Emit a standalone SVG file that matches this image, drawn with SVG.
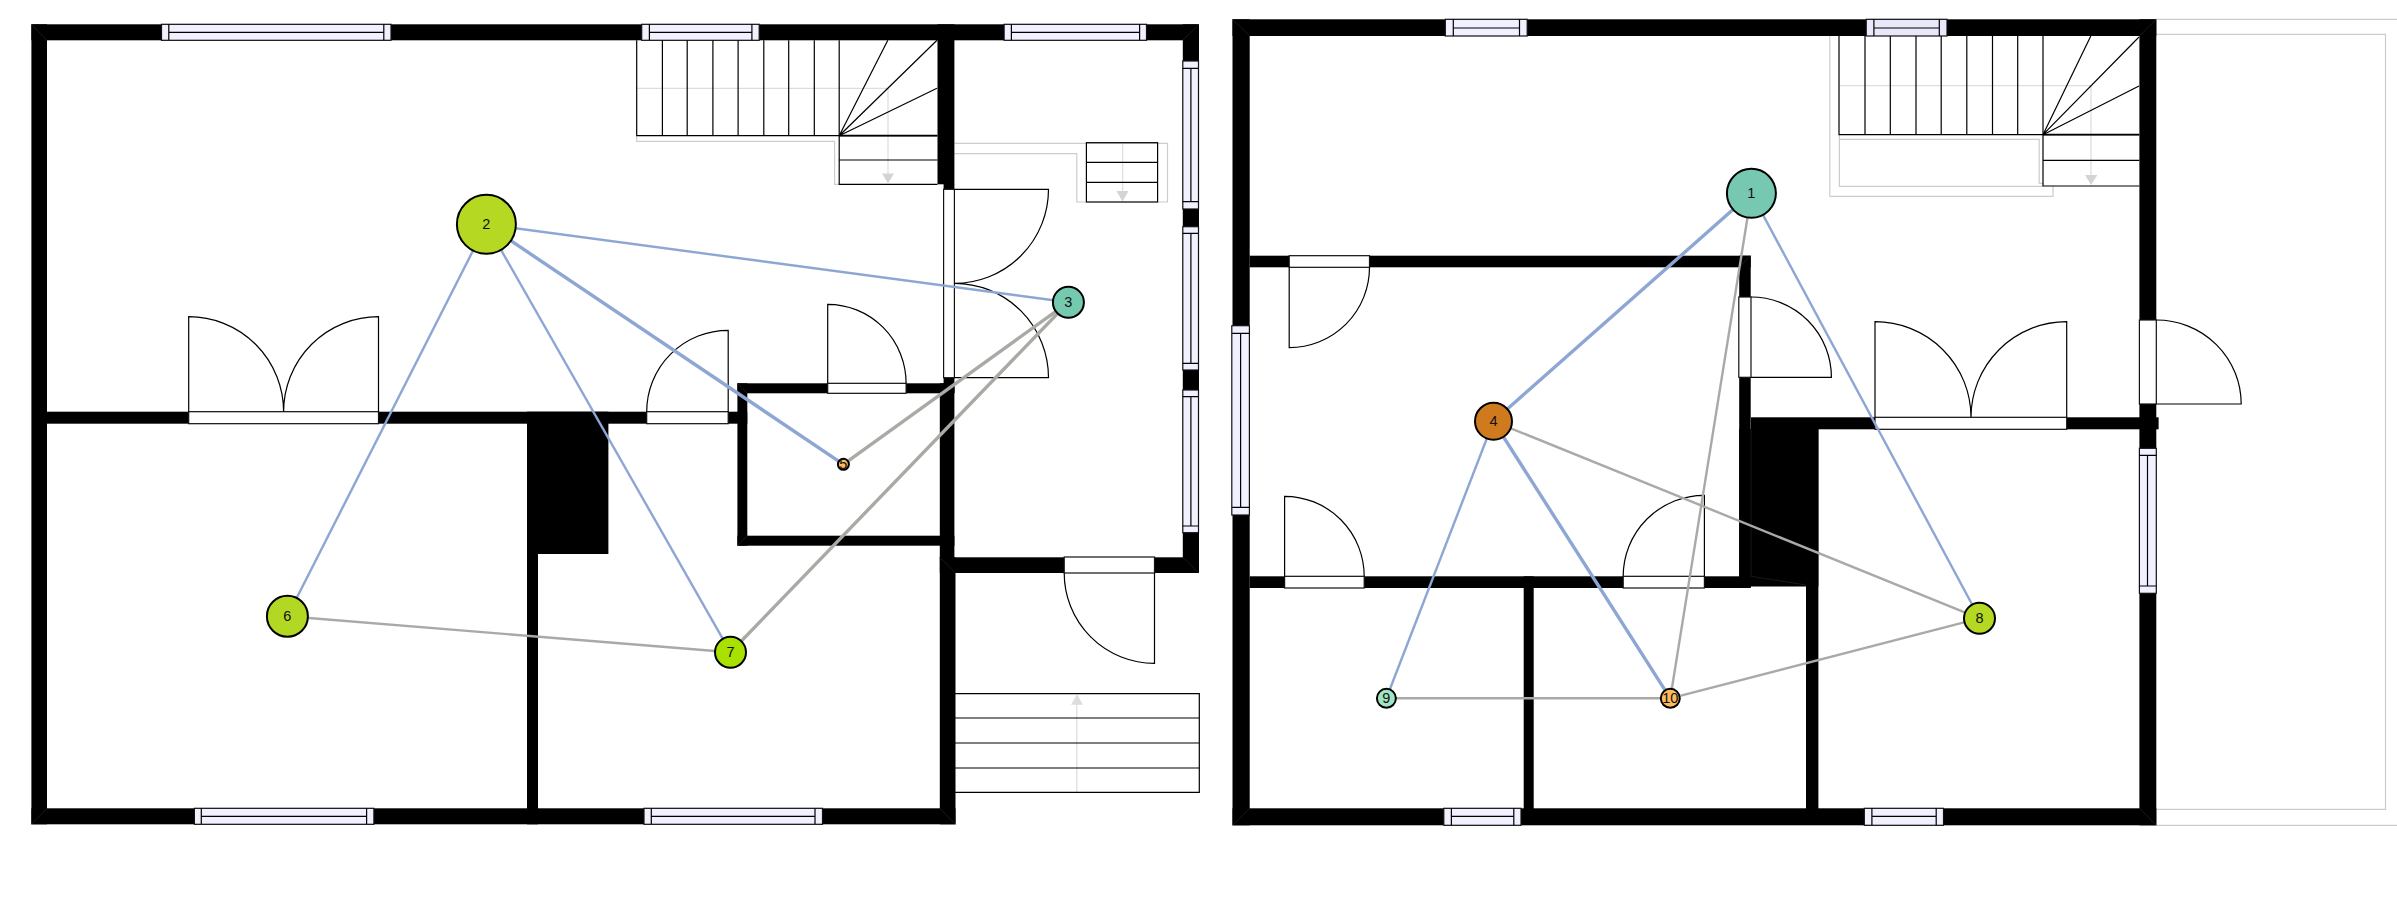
<svg xmlns="http://www.w3.org/2000/svg" width="2397" height="905" viewBox="0 0 2397 905">
<style>
.w{fill:#000;stroke:none}
.win{fill:#f0f0ff;stroke:#111;stroke-width:1.2}
.t{fill:#fff;stroke:#111;stroke-width:1.2}
.l{fill:none;stroke:#000;stroke-width:1.2}
.g{fill:none;stroke:#ccc;stroke-width:1.2}
.gl{fill:none;stroke:#ddd;stroke-width:1.2}
.ga{fill:#d4d4d4;stroke:none}
.m{fill:none;stroke:#333;stroke-width:.5}
.b{stroke:#8da6d3;stroke-width:2.4;fill:none}
.bt{stroke:#8da6d3;stroke-width:3.4;fill:none}
.y{stroke:#a9a9a5;stroke-width:2.4;fill:none}
.yt{stroke:#a9a9a5;stroke-width:3.4;fill:none}
circle{stroke:#000;stroke-width:2}
text{font-family:"Liberation Sans",Arial,sans-serif;font-size:14.5px;fill:#111;text-anchor:middle;dominant-baseline:central}
</style>
<rect width="2397" height="905" fill="#fff"/>
<g id="plan-left">
<path class="g" d="M636.7 135.7V141.3H834.6V184.3H839.2"/>
<path class="g" d="M954.4 143.3H1167.5V202H1157.6M954.4 153.7H1076.8V202H1086.4"/>
<path class="gl" d="M636.7 88.3H888V175"/>
<path class="ga" d="M882 173.5H894L888 183.5Z"/>
<path class="gl" d="M1122.7 143V192"/>
<path class="ga" d="M1116.5 191H1128.5L1122.5 201.5Z"/>
<path class="gl" d="M1076.8 792V704"/>
<path fill="#ddd" d="M1071 704.7H1083L1077 694.3Z"/>
<g class="w">
<rect x="31.4" y="24.3" width="1167.6" height="16"/>
<rect x="31.4" y="24.3" width="15.6" height="800"/>
<rect x="31.4" y="808.3" width="924.1" height="16"/>
<rect x="47" y="411.7" width="700.3" height="12"/>
<rect x="527" y="411.7" width="81.4" height="142.3"/>
<rect x="527" y="554" width="11" height="270.3"/>
<rect x="937.5" y="24.3" width="16.9" height="160"/>
<rect x="943.6" y="184" width="10.8" height="6"/>
<rect x="943.6" y="377" width="10.8" height="16"/>
<rect x="939.8" y="383.3" width="14.6" height="175"/>
<rect x="939.8" y="557.3" width="15.7" height="267"/>
<rect x="737.4" y="383.3" width="217" height="10"/>
<rect x="737.4" y="383.3" width="9.9" height="162.4"/>
<rect x="737.4" y="535.7" width="217" height="10"/>
<rect x="1182.8" y="24.3" width="16.2" height="548.7"/>
<rect x="939.8" y="557.3" width="259.2" height="15.7"/>
</g>
<path class="m" d="M31.4 24.3L47 40.3M31.4 824.3L47 808.3M1199 24.3L1182.8 40.3M1199 573L1182.8 557.3M939.8 557.3L955.5 573M939.8 808.3L955.5 824.3M737.4 383.3L747.3 393.3M737.4 545.7L747.3 535.7M954.4 383.3L944 393.3"/>
<g id="windows-left">
<rect class="win" x="161.5" y="24.3" width="229.5" height="16"/><path class="l" d="M168.8 24.3V40.3M383.8 24.3V40.3M168.8 32.3H383.8"/>
<rect class="win" x="641.7" y="24.3" width="117.5" height="16"/><path class="l" d="M649.4 24.3V40.3M751.9 24.3V40.3M649.4 32.3H751.9"/>
<rect class="win" x="1004.1" y="24.3" width="142.4" height="16"/><path class="l" d="M1011.4 24.3V40.3M1139.6 24.3V40.3M1011.4 32.3H1139.6"/>
<rect class="win" x="194.4" y="808.3" width="179.5" height="16"/><path class="l" d="M201.3 808.3V824.3M366.6 808.3V824.3M201.3 816.3H366.6"/>
<rect class="win" x="644" y="808.3" width="178.5" height="16"/><path class="l" d="M651.3 808.3V824.3M815 808.3V824.3M651.3 816.3H815"/>
<rect class="win" x="1182.8" y="61" width="15.7" height="148"/><path class="l" d="M1182.8 68.3H1198.5M1182.8 201.7H1198.5M1190.9 68.3V201.7"/>
<rect class="win" x="1182.8" y="226.7" width="15.7" height="143.3"/><path class="l" d="M1182.8 233.3H1198.5M1182.8 363.3H1198.5M1190.9 233.3V363.3"/>
<rect class="win" x="1182.8" y="390" width="15.7" height="142.7"/><path class="l" d="M1182.8 396.7H1198.5M1182.8 526H1198.5M1190.9 396.7V526"/>
</g>
<g id="doors-left">
<rect class="t" x="188.7" y="411.7" width="189.8" height="12"/>
<path class="l" d="M188.7 411.7V316.7A94.9 95 0 0 1 283.6 411.7A94.9 95 0 0 1 378.5 316.7V411.7"/>
<rect class="t" x="646.7" y="411.7" width="81.5" height="12"/>
<path class="l" d="M646.7 411.7A81.5 81.4 0 0 1 728.2 330.3V411.7"/>
<rect class="t" x="827.7" y="383.3" width="78.4" height="10"/>
<path class="l" d="M827.7 383.3V304.3A78.4 79 0 0 1 906.1 383.3"/>
<rect class="t" x="943.6" y="189.3" width="10.8" height="188.4"/>
<path class="l" d="M954.4 189.3H1048.5A94.1 94 0 0 1 954.4 283.3A94.1 94.4 0 0 1 1048.5 377.7H954.4"/>
<rect class="t" x="1064.2" y="557" width="90.3" height="16"/>
<path class="l" d="M1154.5 573V663.3A90.3 90.3 0 0 1 1064.2 573"/>
</g>
<g id="stairs-left">
<path class="l" d="M636.7 40.3V135.7H937.1M662.4 40.3V135.7M687.2 40.3V135.7M712.9 40.3V135.7M738.1 40.3V135.7M763.8 40.3V135.7M788.7 40.3V135.7M814.3 40.3V135.7M839.2 40.3V184.3H937.5M839.2 160H937.5"/>
<path class="l" d="M839.2 135.7L887.8 40.3M839.2 135.7L937 40.3M839.2 135.7L937 88.3"/>
<path d="M839.2 135.7H937.5" stroke="#000" stroke-width="1.8" fill="none"/>
<rect class="l" x="1086.4" y="142.7" width="71.2" height="59.3"/>
<path class="l" d="M1086.4 162.3H1157.6M1086.4 182.3H1157.6"/>
<path class="l" d="M955.1 693.7H1199.3V792.3H955.1M955.1 718H1199.3M955.1 743H1199.3M955.1 768H1199.3"/>
</g>
</g>
<g id="plan-right">
<g class="g">
<path d="M2156.3 19.3H2397M2156.3 34.3H2385.5V809.3H2156.3M2156.3 825.3H2397"/>
<path d="M1829.8 36V196.3H2053V186"/>
<path d="M1839.4 135V186.3H2043M1839.4 139.3H2039.2V183.3H2043"/>
</g>
<path class="gl" d="M1839 85.7H2091V176"/>
<path class="ga" d="M2085 175H2097.4L2091 185Z"/>
<g class="w">
<rect x="1232.5" y="19.3" width="923.8" height="16.7"/>
<rect x="1232.5" y="19.3" width="17.2" height="806"/>
<rect x="1232.5" y="808.3" width="923.8" height="17"/>
<rect x="2139.4" y="19.3" width="16.9" height="806"/>
<rect x="1249.7" y="255.7" width="501" height="11.6"/>
<rect x="1739.2" y="255.7" width="11.5" height="332"/>
<rect x="1249.7" y="576.3" width="501" height="11.7"/>
<rect x="1751" y="417.3" width="407.6" height="12"/>
<rect x="1739.2" y="429" width="79.2" height="157.5"/>
<rect x="1806" y="429" width="12.4" height="390"/>
<rect x="1523.7" y="576.3" width="10" height="240"/>
</g>
<path class="m" d="M1232.5 19.3L1249.7 36M1232.5 825.3L1249.7 808.3M2156.3 19.3L2139.4 36M2156.3 825.3L2139.4 808.3M1750.7 255.7L1739.2 267.3M1751 429.3V576.3L1806 585"/>
<g id="windows-right">
<rect class="win" x="1445.3" y="19.3" width="81.9" height="16.7"/><path class="l" d="M1453.3 19.3V36M1519.5 19.3V36M1453.3 28H1519.5"/>
<rect class="win" style="fill:#e8e8fa" x="1866.2" y="19.3" width="80.8" height="16.7"/><path class="l" d="M1873.9 19.3V36M1939.3 19.3V36M1873.9 28H1939.3"/>
<rect class="win" x="1231.8" y="325.7" width="17.6" height="189.3"/><path class="l" d="M1231.8 333.3H1249.4M1231.8 507.3H1249.4M1240.6 333.3V507.3"/>
<rect class="win" x="2139.4" y="448.3" width="16.9" height="145"/><path class="l" d="M2139.4 455.3H2156.3M2139.4 586H2156.3M2147.5 455.3V586"/>
<rect class="win" x="1443.8" y="808.3" width="77.2" height="17"/><path class="l" d="M1451.4 808.3V825.3M1513.8 808.3V825.3M1451.4 816.3H1513.8"/>
<rect class="win" x="1864.3" y="808.3" width="79.2" height="17"/><path class="l" d="M1871.9 808.3V825.3M1936.2 808.3V825.3M1871.9 816.3H1936.2"/>
</g>
<g id="doors-right">
<rect class="t" x="1289.2" y="255.7" width="80.3" height="11.6"/>
<path class="l" d="M1369.5 267.3A80.3 80.4 0 0 1 1289.2 347.7V267.3"/>
<rect class="t" x="1284.6" y="576.3" width="79.6" height="11.7"/>
<path class="l" d="M1284.6 576.3V496.3A79.6 80 0 0 1 1364.2 576.3"/>
<rect class="t" x="1623.2" y="576.3" width="81.2" height="11.7"/>
<path class="l" d="M1623.2 576.3A81.2 81 0 0 1 1704.4 495.3V576.3"/>
<rect class="t" x="1738.8" y="297" width="12.2" height="80.3"/>
<path class="l" d="M1751 297A80.4 80.3 0 0 1 1831.4 377.3H1751"/>
<rect class="t" x="1875" y="417.3" width="191.7" height="12"/>
<path class="l" d="M1875 417.3V321.7A96 95.6 0 0 1 1971 417.3A95.7 95.6 0 0 1 2066.7 321.7V417.3"/>
<rect class="t" x="2139.4" y="320" width="16.9" height="84"/>
<path class="l" d="M2156.3 320A84.9 84 0 0 1 2241.2 404H2156.3"/>
</g>
<g id="stairs-right">
<path class="l" d="M1839 36V134.7H2139M1865 36V134.7M1890.3 36V134.7M1916 36V134.7M1941.2 36V134.7M1966.8 36V134.7M1992.5 36V134.7M2017.7 36V134.7M2043 36V186H2139.4M2043 160.3H2139.4"/>
<path class="l" d="M2043 134.7L2090.8 36M2043 134.7L2139 37M2043 134.7L2139 86"/>
<path d="M2043 134.7H2139.4" stroke="#000" stroke-width="1.8" fill="none"/>
</g>
</g>
<g id="connectors">
<line class="b" x1="486.4" y1="224.3" x2="1068.4" y2="302.3"/>
<line class="bt" x1="486.4" y1="224.3" x2="843.4" y2="464.3"/>
<line class="b" x1="486.4" y1="224.3" x2="287.4" y2="616.3"/>
<line class="b" x1="486.4" y1="224.3" x2="730.5" y2="652.3"/>
<line class="yt" x1="1068.4" y1="302.3" x2="843.4" y2="464.3"/>
<line class="yt" x1="1068.4" y1="302.3" x2="730.5" y2="652.3"/>
<line class="y" x1="287.4" y1="616.3" x2="730.5" y2="652.3"/>
<line class="bt" x1="1751.4" y1="193.3" x2="1493.5" y2="421.3"/>
<line class="b" x1="1751.4" y1="193.3" x2="1979.5" y2="618.3"/>
<line class="b" x1="1493.5" y1="421.3" x2="1386.4" y2="698.3"/>
<line class="bt" x1="1493.5" y1="421.3" x2="1670.3" y2="698.3"/>
<line class="y" x1="1751.4" y1="193.3" x2="1670.3" y2="698.3"/>
<line class="y" x1="1493.5" y1="421.3" x2="1979.5" y2="618.3"/>
<line class="y" x1="1386.4" y1="698.3" x2="1670.3" y2="698.3"/>
<line class="y" x1="1979.5" y1="618.3" x2="1670.3" y2="698.3"/>
</g>
<g id="node-1"><circle cx="1751.4" cy="193.3" r="24.5" fill="#76c9b0"/><text x="1751.4" y="193.3">1</text></g>
<g id="node-2"><circle cx="486.4" cy="224.3" r="29.5" fill="#b5d922"/><text x="486.4" y="224.3">2</text></g>
<g id="node-3"><circle cx="1068.4" cy="302.3" r="15.5" fill="#74c9ae"/><text x="1068.4" y="302.3">3</text></g>
<g id="node-4"><circle cx="1493.5" cy="421.3" r="18.5" fill="#d07a20"/><text x="1493.5" y="421.3">4</text></g>
<g id="node-5"><circle cx="843.4" cy="464.3" r="5.5" fill="#fdbb63"/><text x="843.4" y="464.3">5</text></g>
<g id="node-6"><circle cx="287.4" cy="616.3" r="20.5" fill="#b3d824"/><text x="287.4" y="616.3">6</text></g>
<g id="node-7"><circle cx="730.5" cy="652.3" r="15.5" fill="#a8e000"/><text x="730.5" y="652.3">7</text></g>
<g id="node-8"><circle cx="1979.5" cy="618.3" r="15.5" fill="#b5d922"/><text x="1979.5" y="618.3">8</text></g>
<g id="node-9"><circle cx="1386.4" cy="698.3" r="9.5" fill="#a0e5c3"/><text x="1386.4" y="698.3">9</text></g>
<g id="node-10"><circle cx="1670.3" cy="698.3" r="9.5" fill="#fdbb5c"/><text x="1670.3" y="698.3">10</text></g>
</svg>
